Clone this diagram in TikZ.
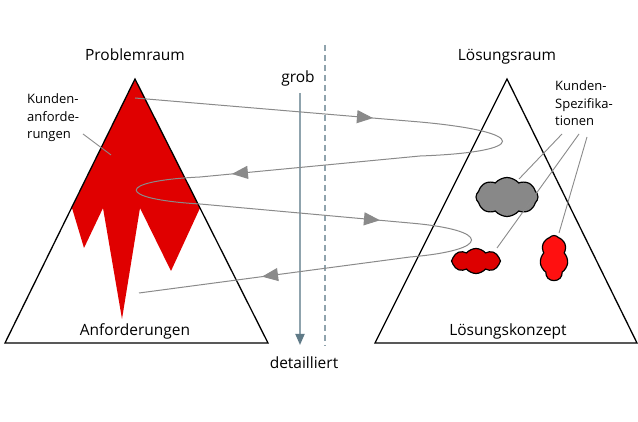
\documentclass[tikz,border=0pt]{standalone}
\usepackage{fontspec}
\setmainfont{Open Sans}
\usetikzlibrary{arrows.meta,shapes.symbols,decorations.markings}
\definecolor{mountainred}{HTML}{E00000}
\definecolor{specred}{HTML}{DD0000}
\definecolor{brightred}{HTML}{FF1010}
\definecolor{cloudgray}{HTML}{888888}
\definecolor{flowgray}{HTML}{8A8A8A}
\definecolor{axisblue}{HTML}{8FA3AD}
\definecolor{tipblue}{HTML}{5F7A87}
\tikzset{x=1pt, y=-1pt, % one unit per pixel, y runs downwards
heading/.style={font=\fontsize{15.5}{18}\selectfont, inner sep=0pt}, % titles of the two spaces
note/.style={font=\fontsize{13}{17.5}\selectfont, align=left, inner sep=0pt}, % small labels
pyramid/.style={draw=black, line width=1.3pt}, % the two triangles
flow/.style={draw=flowgray, line width=1pt}, % the zig-zag path
mid arrow/.style={postaction={decorate, decoration={markings,
  mark=at position #1 with {\arrow{Triangle[length=16pt,width=13pt]}}}}},
pointer/.style={draw=flowgray, line width=0.9pt}, % leader lines
blob/.style={cloud, cloud puffs=8, cloud puff arc=100, cloud ignores aspect, draw=black, line width=1.2pt, inner sep=0pt},
}

\begin{document}
\begin{tikzpicture}
\useasboundingbox (0,0) rectangle (638,422);
% problem space
\coordinate (ptop) at (135,79);
\coordinate (pleft) at (5,343);
\coordinate (pright) at (268,343);
\fill[mountainred] (ptop) -- (200,208) -- (171,271) -- (140,208) -- (122,319)
  -- (103,208) -- (84,248) -- (72,208) -- cycle;
\draw[pyramid] (ptop) -- (pright) -- (pleft) -- cycle;
\node[heading, anchor=base] (problem) at (135,61) {Problemraum};
\node[heading, anchor=base] (req) at (135,336) {Anforderungen};
\node[note, anchor=base west] (custreq) at (27,139) {Kunden-\\anforde-\\rungen};
\draw[pointer] (83,134) coordinate (creq1) -- (111,155) coordinate (creq2);

% solution space
\coordinate (stop) at (507,79);
\coordinate (sleft) at (375,343);
\coordinate (sright) at (637,343);
\draw[pyramid] (stop) -- (sright) -- (sleft) -- cycle;
\node[heading, anchor=base] (solution) at (507,61) {Lösungsraum};
\node[heading, anchor=base] (concept) at (508,336) {Lösungskonzept};
\node[blob, fill=cloudgray, minimum width=62pt, minimum height=39pt] (spec1) at (507,197) {};
\node[blob, fill=specred, minimum width=49pt, minimum height=25pt] (spec2) at (476,261) {};
\node[blob, fill=brightred, minimum width=28pt, minimum height=45pt, cloud puffs=7] (spec3) at (554,258) {};
\node[note, anchor=base west] (custspec) at (555,126) {Kunden-\\Spezifika-\\tionen};
\draw[pointer] (562,134) -- (519,179);
\draw[pointer] (579,134) -- (497,248);
\draw[pointer] (587,137) -- (559,233);

% coarse to detailed
\node[heading, anchor=base] (grob) at (298,83) {grob};
\node[heading, anchor=base] (detail) at (304,369) {detailliert};
\coordinate (coarse) at (300,93);
\coordinate (fine) at (300,345);
\draw[axisblue, line width=1.8pt, -{Triangle[length=11pt,width=9pt,color=tipblue]}] (coarse) -- (fine);
\draw[axisblue, line width=1.4pt, dash pattern=on 6pt off 4pt] (325,45) coordinate (split1) -- (325,346) coordinate (split2);

% zig-zag between the two spaces
\coordinate (z0) at (135,98);
\coordinate (z1) at (420,122);
\coordinate (z2) at (420,156);
\coordinate (z3) at (200,177);
\coordinate (z4) at (200,204);
\coordinate (z5) at (410,223);
\coordinate (z6) at (410,257);
\coordinate (z7) at (139,293);
\draw[flow, mid arrow=0.835] (z0) -- (z1);
\draw[flow] (z1) .. controls (530,132) and (530,152) .. (z2);
\draw[flow, mid arrow=0.855] (z2) -- (z3);
\draw[flow] (z3) .. controls (115,181) and (115,199) .. (z4);
\draw[flow, mid arrow=0.857] (z4) -- (z5);
\draw[flow] (z5) .. controls (492,230) and (492,250) .. (z6);
\draw[flow, mid arrow=0.546] (z6) -- (z7);
\end{tikzpicture}
\end{document}
